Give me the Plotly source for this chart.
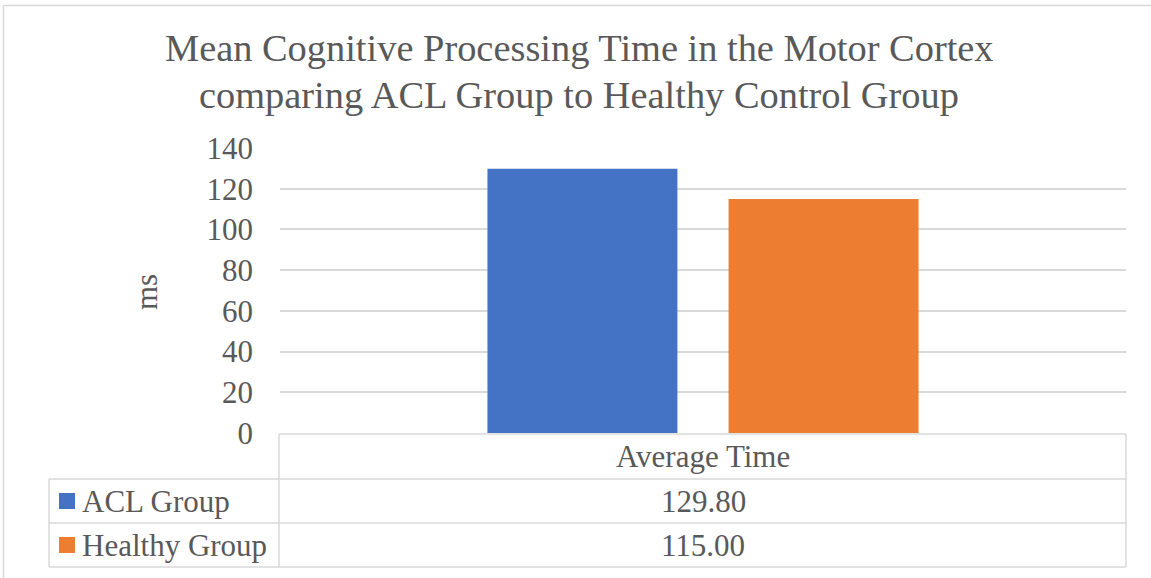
import plotly.graph_objects as go

# ---- data ----
categories = ["Average Time"]
series_names = ["ACL Group", "Healthy Group"]
acl_values = [129.80]
healthy_values = [115.00]
series_values = [acl_values, healthy_values]
series_colors = ["#4472C4", "#ED7D31"]
y_ticks = [0, 20, 40, 60, 80, 100, 120, 140]
title_lines = ["Mean Cognitive Processing Time in the Motor Cortex",
               "comparing ACL Group to Healthy Control Group"]
y_title = "ms"

W, H = 1151, 578
L, R, T, B = 280, 1126, 148, 433
FONT = "Liberation Serif"
GRAY = "#595959"
LINE = "#d9d9d9"


def px(x):
    return (x - L) / (R - L)


def py(y):
    return (B - y) / (B - T)


fig = go.Figure()
for name, vals, col in zip(series_names, series_values, series_colors):
    fig.add_trace(go.Bar(x=categories, y=vals, name=name, marker_color=col,
                         marker_line_width=0, showlegend=False))

shapes = []


def hline(x0, x1, y):
    shapes.append(dict(type="line", xref="paper", yref="paper", x0=px(x0), x1=px(x1),
                       y0=py(y), y1=py(y), line=dict(color=LINE, width=1.5)))


def vline(x, y0, y1):
    shapes.append(dict(type="line", xref="paper", yref="paper", x0=px(x), x1=px(x),
                       y0=py(y0), y1=py(y1), line=dict(color=LINE, width=1.5)))


# outer chart border (top and left visible)
hline(3.5, W + 10, 5.5)
vline(3.5, 5.5, H + 10)

# data table grid
row_lines = [434, 479, 523, 567]
hline(279, 1126, row_lines[0])
for yy in row_lines[1:]:
    hline(49, 1126, yy)
vline(279, row_lines[0], row_lines[3])
vline(1126, row_lines[0], row_lines[3])
vline(49, row_lines[1], row_lines[3])

annotations = []
for i, t in enumerate(title_lines):
    annotations.append(dict(text=t, xref="paper", yref="paper", x=px(579), y=py(48 + 47 * i),
                            xanchor="center", yanchor="middle", showarrow=False,
                            font=dict(family=FONT, size=38.4, color=GRAY)))

# axis title
annotations.append(dict(text=y_title, xref="paper", yref="paper", x=px(146), y=py(292),
                        xanchor="center", yanchor="middle", textangle=-90, showarrow=False,
                        font=dict(family=FONT, size=31, color=GRAY)))

# table header (category)
annotations.append(dict(text=categories[0], xref="paper", yref="paper", x=0.5,
                        y=py((row_lines[0] + row_lines[1]) / 2), xanchor="center", yanchor="middle",
                        showarrow=False, font=dict(family=FONT, size=31, color=GRAY)))

for i, (name, vals, col) in enumerate(zip(series_names, series_values, series_colors)):
    yc = (row_lines[i + 1] + row_lines[i + 2]) / 2
    shapes.append(dict(type="rect", xref="paper", yref="paper", x0=px(59), x1=px(75),
                       y0=py(yc - 8), y1=py(yc + 8), fillcolor=col, line=dict(width=0)))
    annotations.append(dict(text=name, xref="paper", yref="paper", x=px(80), y=py(yc),
                            xanchor="left", yanchor="middle", showarrow=False,
                            font=dict(family=FONT, size=31, color=GRAY)))
    annotations.append(dict(text=f"{vals[0]:.2f}", xref="paper", yref="paper", x=0.5, y=py(yc),
                            xanchor="center", yanchor="middle", showarrow=False,
                            font=dict(family=FONT, size=31, color=GRAY)))

fig.update_layout(
    width=W, height=H,
    margin=dict(l=L, r=W - R, t=T, b=H - B, pad=0),
    paper_bgcolor="white", plot_bgcolor="white",
    barmode="group", bargap=0.43, bargroupgap=0.212,
    shapes=shapes, annotations=annotations,
    font=dict(family=FONT, size=31, color=GRAY),
)
fig.update_xaxes(showticklabels=False, showgrid=False, zeroline=False, showline=False)
fig.update_yaxes(range=[0, 140], tickvals=y_ticks, showgrid=True, gridcolor=LINE, gridwidth=1.5,
                 zeroline=False, showline=False, ticklabelstandoff=26,
                 tickfont=dict(family=FONT, size=31, color=GRAY))

fig.write_html("out.html", config={"displayModeBar": False},
               post_script="document.body.style.margin='0';")
